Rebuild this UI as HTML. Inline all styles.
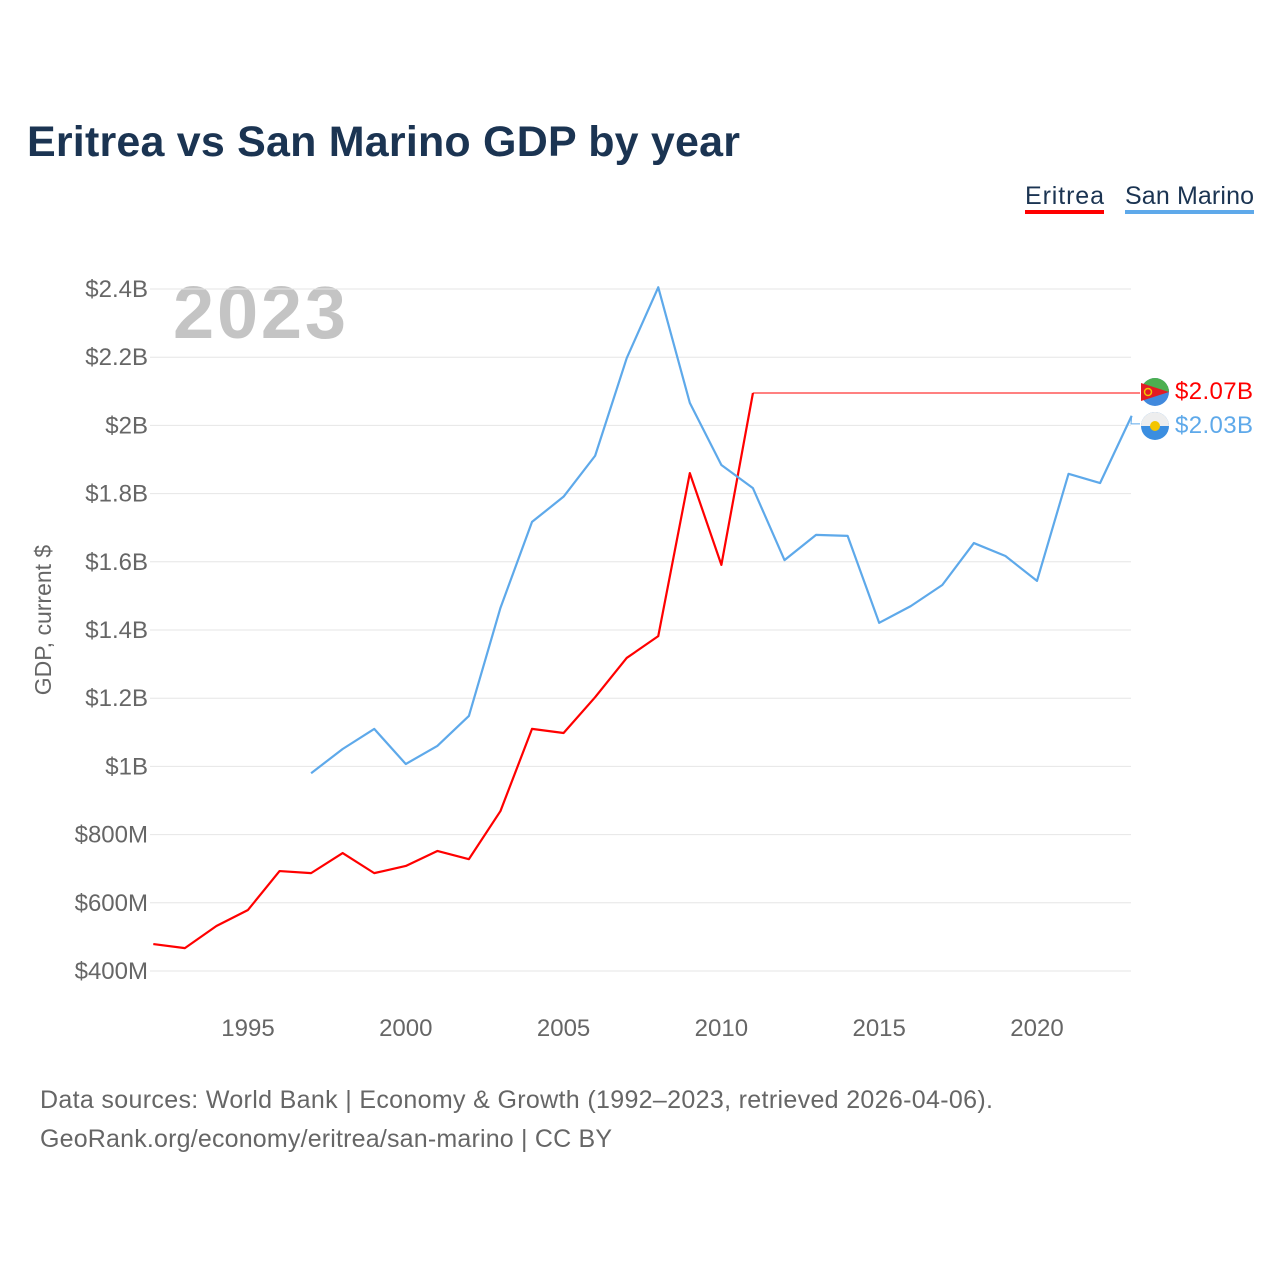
<!DOCTYPE html>
<html><head><meta charset="utf-8"><style>
body{margin:0;background:#fff;font-family:"Liberation Sans",sans-serif;}
</style></head><body>
<svg width="1280" height="1280" xmlns="http://www.w3.org/2000/svg">
<text x="27" y="156" font-size="43" font-weight="bold" fill="#1b3452" textLength="713">Eritrea vs San Marino GDP by year</text>
<g>
<text x="1025" y="204" font-size="25" fill="#1b3452" textLength="79">Eritrea</text>
<rect x="1025" y="210" width="79" height="4" fill="#ff0000"/>
<text x="1125" y="204" font-size="25" fill="#1b3452" textLength="129">San Marino</text>
<rect x="1125" y="210" width="129" height="4" fill="#5ea9ea"/>
</g>
<text x="173" y="338" font-size="74" font-weight="bold" fill="#c4c4c4" textLength="173">2023</text>
<g id="grid"></g><g id="lines"></g>
<text transform="translate(51,620) rotate(-90)" text-anchor="middle" font-size="23" fill="#666">GDP, current $</text>
<text x="40" y="1108" font-size="25" fill="#666" textLength="953">Data sources: World Bank | Economy &amp; Growth (1992–2023, retrieved 2026-04-06).</text>
<text x="40" y="1147" font-size="25" fill="#666" textLength="572">GeoRank.org/economy/eritrea/san-marino | CC BY</text>
</svg>
<script>
const yTicks=[400,600,800,1000,1200,1400,1600,1800,2000,2200,2400];
const yTickLabels=["$400M","$600M","$800M","$1B","$1.2B","$1.4B","$1.6B","$1.8B","$2B","$2.2B","$2.4B"];
const xTicks=[1995,2000,2005,2010,2015,2020];
const eritreaYears=[1992,1993,1994,1995,1996,1997,1998,1999,2000,2001,2002,2003,2004,2005,2006,2007,2008,2009,2010,2011];
const eritreaValues=[479,467,532,579,693,687,746,687,708,752,728,869,1110,1098,1203,1318,1382,1860,1591,2095];
const smYears=[1997,1998,1999,2000,2001,2002,2003,2004,2005,2006,2007,2008,2009,2010,2011,2012,2013,2014,2015,2016,2017,2018,2019,2020,2021,2022,2023];
const smValues=[980,1051,1110,1007,1060,1148,1465,1717,1791,1911,2197,2405,2066,1884,1816,1605,1679,1676,1421,1470,1532,1655,1617,1544,1858,1831,2028];
const NS="http://www.w3.org/2000/svg";
const X=y=>153.3+(y-1992)*31.56;
const Y=v=>971-(v-400)/200*68.2;
function mk(t,a,p){const e=document.createElementNS(NS,t);for(const k in a)e.setAttribute(k,a[k]);p.appendChild(e);return e;}
const g=document.getElementById('grid');
yTicks.forEach((v,i)=>{
 const l=mk('line',{x1:150,x2:1131,y1:Y(v),y2:Y(v),stroke:'#e6e6e6','stroke-width':1},g);
 
 
 const t=mk('text',{x:148,y:Y(v)+8,'text-anchor':'end','font-size':24,fill:'#666'},g);
 t.textContent=yTickLabels[i];
 
 
});
xTicks.forEach(yr=>{
 const t=mk('text',{x:X(yr),y:1036,'text-anchor':'middle','font-size':24,fill:'#666'},g);
 t.textContent=yr;
 
 
});
const L=document.getElementById('lines');
function series(ys,vs,c,name){
 const p=mk('polyline',{points:ys.map((y,i)=>X(y)+','+Y(vs[i])).join(' '),fill:'none',stroke:c,'stroke-width':2.2,'stroke-linejoin':'round'},L);
 
 
}
series(eritreaYears,eritreaValues,'#ff0000','eritrea-line');
series(smYears,smValues,'#5ea9ea','san-marino-line');
const eY=Y(eritreaValues[eritreaValues.length-1]), eX=X(eritreaYears[eritreaYears.length-1]);
const c1=mk('polyline',{points:`${eX},${eY} 1140,${eY}`,fill:'none',stroke:'#ff0000','stroke-width':1},L);


const sY=Y(smValues[smValues.length-1]);
const c2=mk('polyline',{points:`${X(2023)},${sY} 1131,${sY+8} 1140,${sY+8}`,fill:'none',stroke:'#5ea9ea','stroke-width':1},L);


const f1=mk('g',{},L);


mk('circle',{cx:1155,cy:392,r:14,fill:'#4189dd'},f1);
mk('path',{d:'M1141,392 A14,14 0 0 1 1169,392 Z',fill:'#4caf50'},f1);
mk('path',{d:'M1141,383 L1169,392 L1141,401 Z',fill:'#e31b23'},f1);
mk('circle',{cx:1148,cy:392,r:3.5,fill:'none',stroke:'#f3c500','stroke-width':1.5},f1);
const f2=mk('g',{},L);


mk('circle',{cx:1155,cy:426,r:14,fill:'#3b8ee0'},f2);
mk('path',{d:'M1141,426 A14,14 0 0 1 1169,426 Z',fill:'#eeeeee'},f2);
mk('circle',{cx:1155,cy:426,r:5,fill:'#f3c500'},f2);
const t1=mk('text',{x:1175,y:399,'font-size':24,fill:'#ff0000',textLength:78},L);
t1.textContent='$2.07B';


const t2=mk('text',{x:1175,y:433,'font-size':24,fill:'#5ea9ea',textLength:78},L);
t2.textContent='$2.03B';


</script>
</body></html>
